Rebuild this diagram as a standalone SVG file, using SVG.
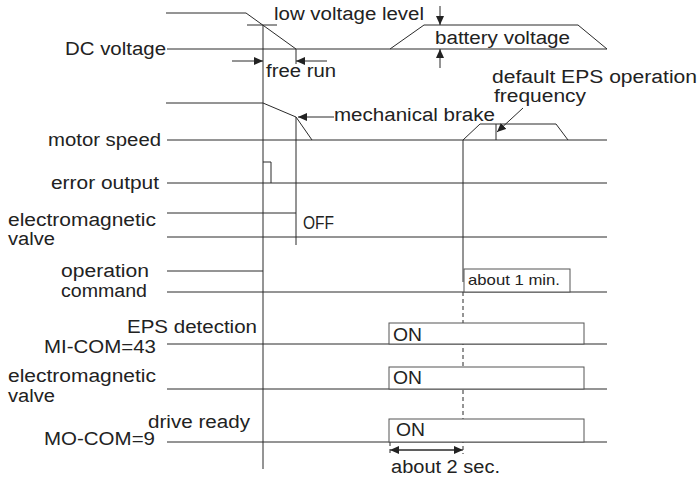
<svg xmlns="http://www.w3.org/2000/svg" width="699" height="478" viewBox="0 0 699 478">
<style>
.l{stroke:#2a2a2a;stroke-width:1;fill:none}
.d{stroke:#2a2a2a;stroke-width:1;fill:none;stroke-dasharray:4,3}
.b{stroke:#555;stroke-width:1;fill:#fff}
text{font-family:"Liberation Sans",Arial,sans-serif;font-size:18px;fill:#222}
.s{font-size:14.5px}
</style>
<defs>
<marker id="ah" markerWidth="9" markerHeight="8" refX="9" refY="4" orient="auto" markerUnits="userSpaceOnUse">
<path d="M0,0 L9,4 L0,8 Z" fill="#222"/>
</marker>
</defs>
<rect width="699" height="478" fill="#fff"/>
<g id="connectors">
<path class="l" d="M263,25 V469"/>
<path class="l" d="M296,117 V245"/>
<path class="l" d="M463,140 V282"/>
<path class="d" d="M463,292 V454"/>
<path class="d" d="M390,442 V456"/>
</g>
<g id="dc-voltage">
<path class="l" d="M166,13 H246 L296,49"/>
<path class="l" d="M247,25 H277"/>
<path class="l" d="M167,49 H607 M390,49 L424,25 H578 L607,49"/>
<path class="l" d="M296,49 V64"/>
<path class="l" d="M232,61 H263" marker-end="url(#ah)"/>
<path class="l" d="M327,61 H296" marker-end="url(#ah)"/>
<path class="l" d="M440,6 V25" marker-end="url(#ah)"/>
<path class="l" d="M440,68 V49" marker-end="url(#ah)"/>
<text x="65" y="55" textLength="101" lengthAdjust="spacingAndGlyphs">DC voltage</text>
<text x="274" y="20" textLength="150" lengthAdjust="spacingAndGlyphs">low voltage level</text>
<text x="266" y="77" textLength="70" lengthAdjust="spacingAndGlyphs">free run</text>
<text x="435" y="44" textLength="135" lengthAdjust="spacingAndGlyphs">battery voltage</text>
</g>
<g id="motor-speed">
<path class="l" d="M166,103 H263 L296,117 L312,140"/>
<path class="l" d="M167,140 H607"/>
<path class="l" d="M463,140 L480,124 H556 L568,140"/>
<path class="l" d="M496,124 V140"/>
<path class="l" d="M334,117 H298" marker-end="url(#ah)"/>
<path class="l" d="M523,108 L497,132" marker-end="url(#ah)"/>
<text x="48" y="146" textLength="113" lengthAdjust="spacingAndGlyphs">motor speed</text>
<text x="334" y="121" textLength="161" lengthAdjust="spacingAndGlyphs">mechanical brake</text>
<text x="492" y="83" textLength="205" lengthAdjust="spacingAndGlyphs">default EPS operation</text>
<text x="494" y="102" textLength="92" lengthAdjust="spacingAndGlyphs">frequency</text>
</g>
<g id="error-output">
<path class="l" d="M167,183 H607"/>
<path class="l" d="M263,162 H271 V183"/>
<text x="51" y="189" textLength="108" lengthAdjust="spacingAndGlyphs">error output</text>
</g>
<g id="valve-1">
<path class="l" d="M167,213 H296"/>
<path class="l" d="M167,237 H607"/>
<text x="8" y="226" textLength="148" lengthAdjust="spacingAndGlyphs">electromagnetic</text>
<text x="8" y="245" textLength="47" lengthAdjust="spacingAndGlyphs">valve</text>
<text x="303" y="229" textLength="31" lengthAdjust="spacingAndGlyphs">OFF</text>
</g>
<g id="operation-command">
<path class="l" d="M167,271 H263"/>
<path class="l" d="M167,292 H607"/>
<rect class="b" x="464" y="269" width="106" height="23"/>
<text x="61" y="277" textLength="88" lengthAdjust="spacingAndGlyphs">operation</text>
<text x="61" y="297" textLength="86" lengthAdjust="spacingAndGlyphs">command</text>
<text class="s" x="468" y="285" textLength="92" lengthAdjust="spacingAndGlyphs">about 1 min.</text>
</g>
<g id="eps-detection">
<path class="l" d="M167,344 H607"/>
<rect class="b" x="389" y="323" width="195" height="21"/>
<text x="127" y="333" textLength="130" lengthAdjust="spacingAndGlyphs">EPS detection</text>
<text x="44" y="353" textLength="112" lengthAdjust="spacingAndGlyphs">MI-COM=43</text>
<text x="393" y="341" textLength="29" lengthAdjust="spacingAndGlyphs">ON</text>
</g>
<g id="valve-2">
<path class="l" d="M167,389 H607"/>
<rect class="b" x="389" y="367" width="195" height="22"/>
<text x="8" y="382" textLength="148" lengthAdjust="spacingAndGlyphs">electromagnetic</text>
<text x="8" y="402" textLength="47" lengthAdjust="spacingAndGlyphs">valve</text>
<text x="393" y="384" textLength="29" lengthAdjust="spacingAndGlyphs">ON</text>
</g>
<g id="drive-ready">
<path class="l" d="M167,442 H607"/>
<rect class="b" x="389" y="419" width="195" height="23"/>
<path class="l" d="M399,450 H463" marker-end="url(#ah)"/>
<path class="l" d="M454,450 H390" marker-end="url(#ah)"/>
<text x="148" y="428" textLength="102" lengthAdjust="spacingAndGlyphs">drive ready</text>
<text x="44" y="445" textLength="111" lengthAdjust="spacingAndGlyphs">MO-COM=9</text>
<text x="396" y="436" textLength="29" lengthAdjust="spacingAndGlyphs">ON</text>
<text x="391" y="473" textLength="109" lengthAdjust="spacingAndGlyphs">about 2 sec.</text>
</g>
</svg>
